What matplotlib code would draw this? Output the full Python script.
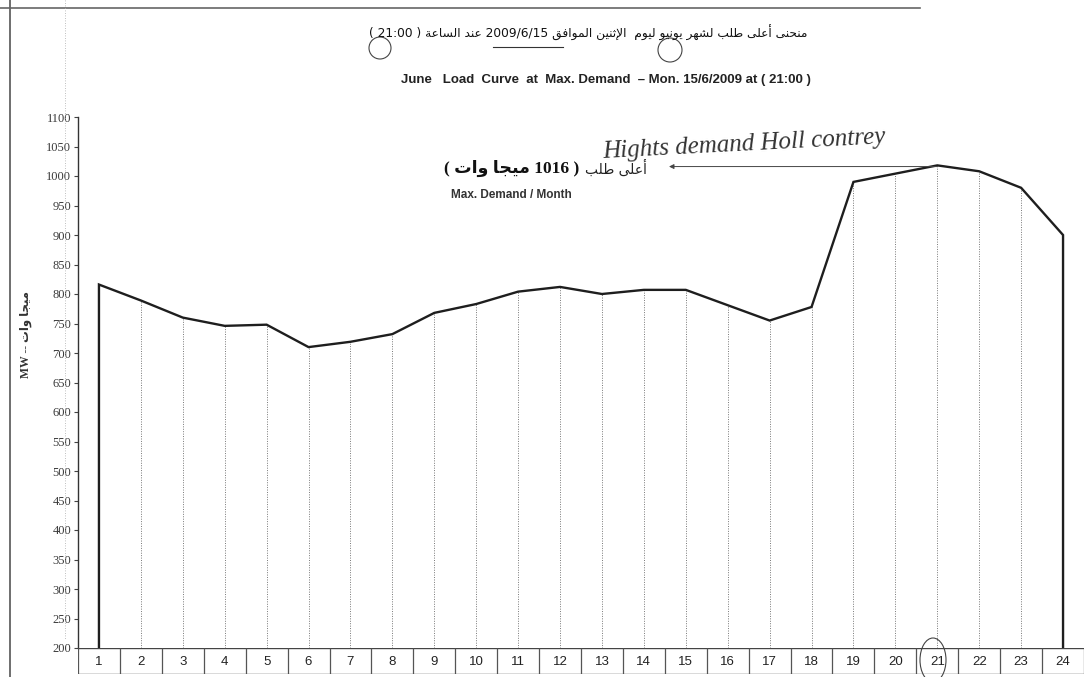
import matplotlib
matplotlib.use('Agg')
import matplotlib.pyplot as plt
from matplotlib.patches import Ellipse
from matplotlib.lines import Line2D
import numpy as np

# hourly load, June max demand day (MW)
hours = list(range(1, 25))
load_mw = [816, 789, 760, 746, 748, 710, 719, 732, 768, 783, 804, 812,
           800, 807, 807, 781, 755, 778, 990, 1004, 1018, 1008, 980, 900]
y_ticks = list(range(200, 1101, 50))
peak_hour = 21

title_ar = 'منحنى أعلى طلب لشهر يونيو ليوم  الإثنين الموافق 2009/6/15 عند الساعة ( 21:00 )'
title_en = 'June   Load  Curve  at  Max. Demand  – Mon. 15/6/2009 at ( 21:00 )'
peak_ar_small = 'أعلى طلب'
peak_ar_big = '( 1016 ميجا وات )'
peak_en = 'Max. Demand / Month'
ylabel_ar = 'ميجا وات'
hand_note = 'Hights demand Holl contrey'

# --- minimal arabic shaping (matplotlib has no bidi / joining) ---
FORMS = {
    'ا': (0xFE8D, 0xFE8E, None, None), 'أ': (0xFE83, 0xFE84, None, None),
    'إ': (0xFE87, 0xFE88, None, None), 'ب': (0xFE8F, 0xFE90, 0xFE91, 0xFE92),
    'ة': (0xFE93, 0xFE94, None, None), 'ت': (0xFE95, 0xFE96, 0xFE97, 0xFE98),
    'ث': (0xFE99, 0xFE9A, 0xFE9B, 0xFE9C), 'ج': (0xFE9D, 0xFE9E, 0xFE9F, 0xFEA0),
    'ح': (0xFEA1, 0xFEA2, 0xFEA3, 0xFEA4), 'د': (0xFEA9, 0xFEAA, None, None),
    'ر': (0xFEAD, 0xFEAE, None, None), 'س': (0xFEB1, 0xFEB2, 0xFEB3, 0xFEB4),
    'ش': (0xFEB5, 0xFEB6, 0xFEB7, 0xFEB8), 'ط': (0xFEC1, 0xFEC2, 0xFEC3, 0xFEC4),
    'ع': (0xFEC9, 0xFECA, 0xFECB, 0xFECC), 'ف': (0xFED1, 0xFED2, 0xFED3, 0xFED4),
    'ق': (0xFED5, 0xFED6, 0xFED7, 0xFED8), 'ل': (0xFEDD, 0xFEDE, 0xFEDF, 0xFEE0),
    'م': (0xFEE1, 0xFEE2, 0xFEE3, 0xFEE4), 'ن': (0xFEE5, 0xFEE6, 0xFEE7, 0xFEE8),
    'ه': (0xFEE9, 0xFEEA, 0xFEEB, 0xFEEC), 'و': (0xFEED, 0xFEEE, None, None),
    'ى': (0xFEEF, 0xFEF0, None, None), 'ي': (0xFEF1, 0xFEF2, 0xFEF3, 0xFEF4),
}
LAM_ALEF = {'ا': (0xFEFB, 0xFEFC), 'أ': (0xFEF7, 0xFEF8), 'إ': (0xFEF9, 0xFEFA)}


def shape(word):
    out = []
    i = 0
    n = len(word)
    while i < n:
        c = word[i]
        prev = word[i - 1] if i > 0 else None
        cp = prev in FORMS and FORMS[prev][2] is not None
        if c == 'ل' and i + 1 < n and word[i + 1] in LAM_ALEF:
            out.append(chr(LAM_ALEF[word[i + 1]][1 if cp else 0]))
            i += 2
            continue
        if c not in FORMS:
            out.append(c)
            i += 1
            continue
        f = FORMS[c]
        nxt = word[i + 1] if i + 1 < n else None
        cn = nxt in FORMS and f[2] is not None
        if cp and cn:
            g = f[3]
        elif cp:
            g = f[1]
        elif cn:
            g = f[2]
        else:
            g = f[0]
        out.append(chr(g))
        i += 1
    return ''.join(out)


def visual(text):
    res = []
    for w in reversed(text.split(' ')):
        if any(ch in FORMS for ch in w):
            res.append(shape(w)[::-1])
        else:
            res.append(w.translate(str.maketrans('()', ')(')))
    return ' '.join(res)


W, H = 1092, 677
fig = plt.figure(figsize=(W / 100, H / 100), dpi=100)
fig.patch.set_facecolor('white')

def fx(px):
    return px / W

def fy(py):
    return 1 - py / H

# main axes
ax = fig.add_axes([fx(78), fy(648), fx(1084) - fx(78), fy(117) - fy(648)])
ax.set_xlim(0.5, 24.5)
ax.set_ylim(200, 1100)
for s in ['top', 'right', 'bottom']:
    ax.spines[s].set_visible(False)
ax.spines['left'].set_linewidth(1.0)
ax.spines['left'].set_color('#333333')
ax.set_xticks([])
ax.set_yticks(y_ticks)
ax.set_yticklabels([str(v) for v in y_ticks], fontsize=9, family='Liberation Serif',
                   color='#3a3a3a')
ax.tick_params(axis='y', length=3, width=0.8, color='#444444', pad=2)

# dotted hour lines
ax.vlines(hours[1:-1], 200, load_mw[1:-1], colors='#777777', linewidth=0.7,
          linestyles=(0, (1, 1.5)))
# curve closed down to the base at both ends
ax.plot([hours[0]] + hours + [hours[-1]], [200] + load_mw + [200],
        color='#1e1e1e', linewidth=1.7, solid_joinstyle='miter')

peak = max(load_mw)
ax.annotate('', xy=(14.6, peak - 2), xytext=(peak_hour, peak - 2),
            arrowprops=dict(arrowstyle='-|>', color='#444444', lw=0.7,
                            mutation_scale=7, shrinkA=0, shrinkB=0))

ax.text(14.07, peak - 4, visual(peak_ar_small), ha='right', va='center', fontsize=10,
        family='DejaVu Sans', color='#222222')
ax.text(12.45, peak - 6, visual(peak_ar_big), ha='right', va='center', fontsize=12.5,
        family=['Liberation Serif', 'DejaVu Sans'], weight='bold', color='#111111')
ax.text(9.4, peak - 50, peak_en, ha='left', va='center', fontsize=8.5,
        family='Liberation Sans', weight='bold', color='#333333')
ax.text(13.0, peak + 36, hand_note, ha='left', va='center', fontsize=18,
        family='Liberation Serif', style='italic', color='#333333', rotation=3)

# hour table below the axis
tab = fig.add_axes([fx(78), fy(674), fx(1084) - fx(78), fy(648) - fy(674)])
tab.set_xlim(0.5, 24.5)
tab.set_ylim(0, 1)
tab.axis('off')
tab.hlines([0, 1], 0.5, 24.5, colors='#444444', linewidth=1.0)
tab.vlines(np.arange(0.5, 25, 1), 0, 1, colors='#555555', linewidth=0.9)
for h in hours:
    tab.text(h, 0.45, str(h), ha='center', va='center', fontsize=9.5,
             family='Liberation Sans', color='#222222')

# titles
fig.text(fx(588), fy(33), visual(title_ar), ha='center', va='center', fontsize=8.8,
         family='DejaVu Sans', color='#111111')
fig.text(fx(606), fy(80), title_en, ha='center', va='center', fontsize=9.5,
         family='Liberation Sans', weight='bold', color='#222222')

# y label
fig.text(fx(26), fy(334), 'MW -- ' + visual(ylabel_ar), rotation=90, ha='center',
         va='center', fontsize=8.5, family=['Liberation Serif', 'DejaVu Sans'],
         weight='bold', color='#333333')

# scan page frame and hand marks
fig.add_artist(Line2D([fx(10), fx(10)], [0, 1], color='#555555', lw=1.2))
fig.add_artist(Line2D([0, fx(920)], [fy(8), fy(8)], color='#666666', lw=1.2))
fig.add_artist(Line2D([fx(65), fx(65)], [fy(0), fy(640)], color='#aaaaaa', lw=0.6,
                      linestyle=(0, (1, 2))))
fig.add_artist(Line2D([fx(493), fx(563)], [fy(47), fy(47)], color='#333333', lw=0.8))
for cx, cy, w, h in [(380, 48, 22, 22), (670, 50, 24, 24), (933, 660, 26, 44)]:
    fig.add_artist(Ellipse((fx(cx), fy(cy)), fx(w), h / H, fill=False,
                           edgecolor='#444444', lw=0.8))

fig.savefig('out.png', dpi=100, facecolor='white')
